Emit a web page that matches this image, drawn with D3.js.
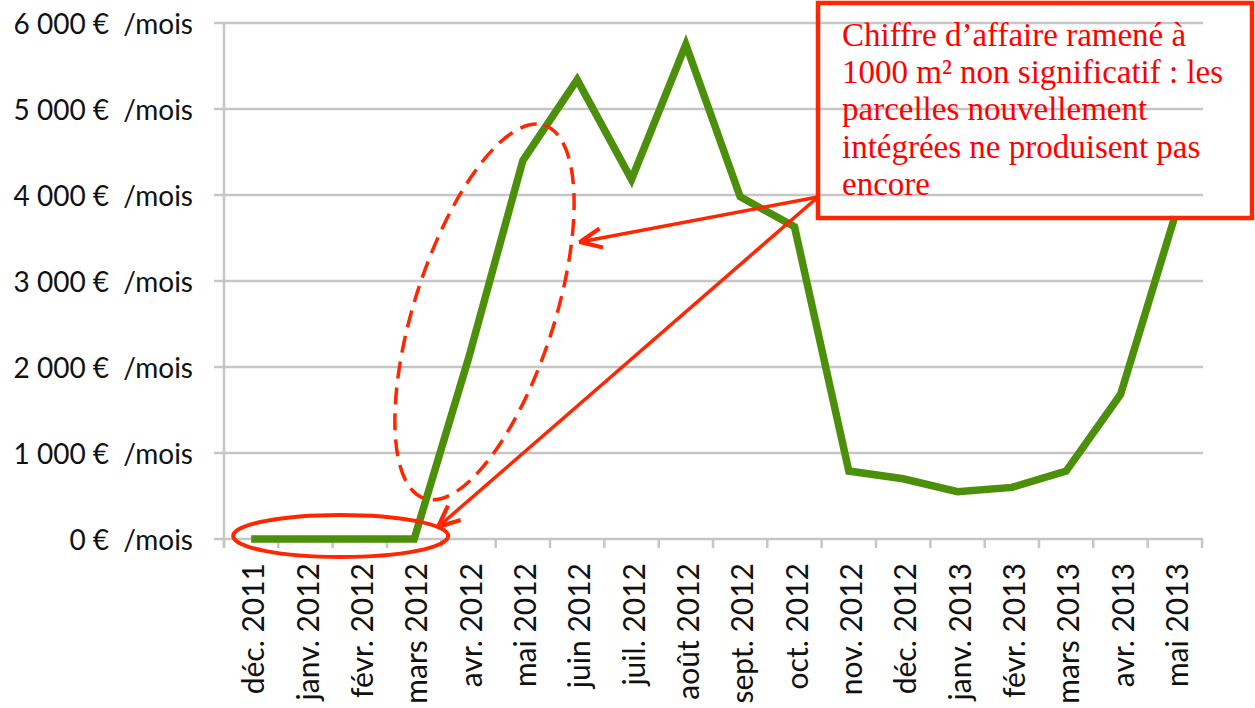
<!DOCTYPE html>
<html>
<head>
<meta charset="utf-8">
<script src="https://cdn.jsdelivr.net/npm/d3@7"></script>
<style>
  body { margin: 0; background: #fff; }
  text { white-space: pre; }
</style>
</head>
<body>
<div id="chart"></div>
<script>
// data
const months = ["déc. 2011", "janv. 2012", "févr. 2012", "mars 2012", "avr. 2012", "mai 2012",
  "juin 2012", "juil. 2012", "août 2012", "sept. 2012", "oct. 2012", "nov. 2012",
  "déc. 2012", "janv. 2013", "févr. 2013", "mars 2013", "avr. 2013", "mai 2013"];
const values = [0, 0, 0, 0, 2100, 4400, 5340, 4180, 5750, 3980, 3630, 790,
  700, 550, 600, 790, 1680, 3750];
const yTicks = [0, 1000, 2000, 3000, 4000, 5000, 6000];
const noteLines = ["Chiffre d\u2019affaire ramené à", "1000 m\u00b2 non significatif : les",
  "parcelles nouvellement", "intégrées ne produisent pas", "encore"];

const W = 1255, H = 708;
const plotL = 224, plotR = 1202, plotT = 23, plotB = 539;
const gridColor = "#c6c6c6";
const green = "#4b8f0b";
const red = "#ff2600";

const svg = d3.select("#chart").append("svg")
  .attr("width", W).attr("height", H);

const x = d3.scaleBand().domain(months).range([plotL, plotR]).padding(0);
const xc = m => x(m) + x.bandwidth() / 2;
const y = d3.scaleLinear().domain([0, 6000]).range([plotB, plotT]);

const loc = d3.formatLocale({decimal: ",", thousands: " ", grouping: [3], currency: ["", ""]});
const fmt = loc.format(",d");

// grid lines
svg.append("g").selectAll("line").data(yTicks).join("line")
  .attr("x1", plotL - 10).attr("x2", plotR + 1)
  .attr("y1", d => y(d)).attr("y2", d => y(d))
  .style("stroke", gridColor).style("stroke-width", 2.5);

// y axis line
svg.append("line")
  .attr("x1", plotL).attr("x2", plotL).attr("y1", y(6000)).attr("y2", plotB + 9)
  .style("stroke", gridColor).style("stroke-width", 2.5);

// x ticks at band edges
const edges = months.map(m => x(m)).concat([plotR]);
svg.append("g").selectAll("line").data(edges).join("line")
  .attr("x1", d => d).attr("x2", d => d)
  .attr("y1", plotB).attr("y2", plotB + 9)
  .style("stroke", gridColor).style("stroke-width", 2.5);

// y labels
svg.append("g").selectAll("text").data(yTicks).join("text")
  .attr("x", 193).attr("y", d => y(d))
  .attr("text-anchor", "end").attr("dominant-baseline", "central")
  .style("font-family", "Lato, 'Open Sans', sans-serif").style("font-size", "28px")
  .style("fill", "#111")
  .text(d => fmt(d) + " €  /mois");

// x labels (rotated)
svg.append("g").selectAll("text").data(months).join("text")
  .attr("transform", d => `translate(${xc(d) + 1},563) rotate(-90)`)
  .attr("text-anchor", "end").attr("dominant-baseline", "central")
  .style("font-family", "Lato, 'Open Sans', sans-serif").style("font-size", "30px")
  .style("fill", "#111")
  .text(d => d);

// the series
const line = d3.line().x((d, i) => xc(months[i])).y(d => y(d));
svg.append("path").datum(values)
  .attr("d", line)
  .style("fill", "none").style("stroke", green).style("stroke-width", 7.5)
  .style("stroke-linejoin", "miter");

// annotations
const defs = svg.append("defs");
defs.append("marker").attr("id", "arr")
  .attr("viewBox", "0 0 20 20").attr("refX", 19).attr("refY", 10)
  .attr("markerWidth", 24).attr("markerHeight", 24)
  .attr("markerUnits", "userSpaceOnUse").attr("orient", "auto")
  .append("path").attr("d", "M1,2 L19,10 L1,18")
  .style("fill", "none").style("stroke", red).style("stroke-width", 3.5);

// solid ellipse round the flat start
const e1x0 = xc(months[0]) - 18, e1x1 = xc(months[3]) + 34;
svg.append("ellipse")
  .attr("cx", (e1x0 + e1x1) / 2).attr("cy", y(0) - 3)
  .attr("rx", (e1x1 - e1x0) / 2).attr("ry", 21)
  .style("fill", "none").style("stroke", red).style("stroke-width", 4);

// dashed ellipse round the climb
svg.append("ellipse")
  .attr("transform", `translate(${xc(months[4]) + 16},${y(2640)}) rotate(-72.2)`)
  .attr("rx", 196).attr("ry", 70)
  .style("fill", "none").style("stroke", red).style("stroke-width", 3.5)
  .style("stroke-dasharray", "17,9");

// note box
const box = {x0: 818, y0: 3, x1: 1252, y1: 218};
svg.append("rect")
  .attr("x", box.x0).attr("y", box.y0)
  .attr("width", box.x1 - box.x0).attr("height", box.y1 - box.y0)
  .style("fill", "none").style("stroke", red).style("stroke-width", 4.5);

svg.append("g").selectAll("text").data(noteLines).join("text")
  .attr("x", 842).attr("y", (d, i) => 46 + i * 37.2)
  .style("font-family", "'Liberation Serif', 'DejaVu Serif', serif").style("font-size", "33px")
  .style("fill", "#ff0000")
  .text(d => d);

// arrows from the box corner
const start = [box.x0, 197];
const tips = [[580, 242], [438, 527]];
svg.append("g").selectAll("line").data(tips).join("line")
  .attr("x1", start[0]).attr("y1", start[1])
  .attr("x2", d => d[0]).attr("y2", d => d[1])
  .attr("marker-end", "url(#arr)")
  .style("stroke", red).style("stroke-width", 3.5);
</script>
</body>
</html>
